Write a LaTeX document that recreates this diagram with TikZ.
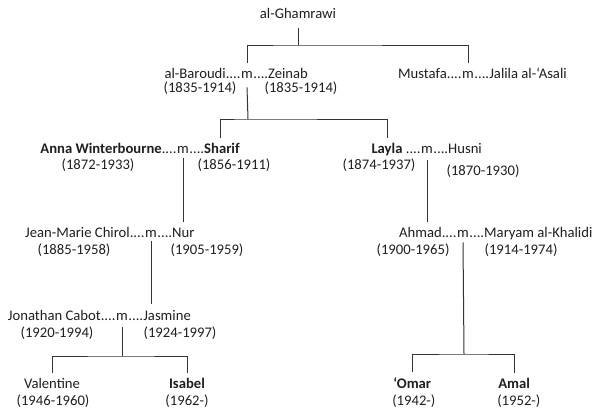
\documentclass[tikz,border=0pt]{standalone}
\usepackage{fontspec}
\setmainfont{Carlito}
\usetikzlibrary{positioning}

\tikzset{
	who/.style={inner sep=0pt, anchor=base, font=\fontsize{11}{13}\selectfont, text=black!88},
	wed/.style={who},
	born/.style={who},
	link/.style={draw=black!80, line width=0.75pt},
}

\begin{document}
\begin{tikzpicture}[x=0.75pt, y=-0.75pt]
	\useasboundingbox (0,0) rectangle (595,414);

	%First generation
	\node [who] (gham) at (298,18) {al-Ghamrawi};

	%al-Baroudi and Zeinab
	\node [wed] (mB) at (247,78) {m};
	\node [who, base left=0pt of mB] (baroudi) {al-Baroudi....};
	\node [who, base right=0pt of mB] (zeinab) {....Zeinab};
	\node [born] (baroudid) at (200,92) {(1835-1914)};
	\node [born] (zeinabd) at (301,92) {(1835-1914)};
	%Mustafa and Jalila
	\node [wed] (mM) at (468,78) {m};
	\node [who, base left=0pt of mM] (mustafa) {Mustafa....};
	\node [who, base right=0pt of mM] (jalila) {....Jalila al-‘Asali};

	%Anna Winterbourne and Sharif
	\node [wed] (mA) at (183,153) {m};
	\node [who, base left=0pt of mA] (anna) {\textbf{Anna Winterbourne}....};
	\node [who, base right=0pt of mA] (sharif) {....\textbf{Sharif}};
	\node [born] (annad) at (98,169) {(1872-1933)};
	\node [born] (sharifd) at (234,169) {(1856-1911)};
	%Layla and Husni
	\node [wed] (mL) at (427,153) {m};
	\node [who, base left=0pt of mL] (layla) {\textbf{Layla} ....};
	\node [who, base right=0pt of mL] (husni) {....Husni};
	\node [born] (laylad) at (379,169) {(1874-1937)};
	\node [born] (husnid) at (483,175) {(1870-1930)};

	%Jean-Marie Chirol and Nur
	\node [wed] (mJ) at (151,237) {m};
	\node [who, base left=0pt of mJ] (jean) {Jean-Marie Chirol....};
	\node [who, base right=0pt of mJ] (nur) {....Nur};
	\node [born] (jeand) at (74,254) {(1885-1958)};
	\node [born] (nurd) at (207,254) {(1905-1959)};
	%Ahmad and Maryam
	\node [wed] (mH) at (463,237) {m};
	\node [who, base left=0pt of mH] (ahmad) {Ahmad....};
	\node [who, base right=0pt of mH] (maryam) {....Maryam al-Khalidi};
	\node [born] (ahmadd) at (413,254) {(1900-1965)};
	\node [born] (maryamd) at (521,254) {(1914-1974)};

	%Jonathan Cabot and Jasmine
	\node [wed] (mC) at (122,320) {m};
	\node [who, base left=0pt of mC] (jonathan) {Jonathan Cabot....};
	\node [who, base right=0pt of mC] (jasmine) {....Jasmine};
	\node [born] (jonathand) at (57,337) {(1920-1994)};
	\node [born] (jasmined) at (180,337) {(1924-1997)};

	%Last generation
	\node [who] (valentine) at (52,388) {Valentine};
	\node [born] (valentined) at (53,405) {(1946-1960)};
	\node [who] (isabel) at (187,388) {\textbf{Isabel}};
	\node [born] (isabeld) at (187,405) {(1962-)};
	\node [who, anchor=base west] (omar) at (393,388) {\textbf{‘Omar}};
	\node [born, anchor=base west] (omard) at (392,405) {(1942-)};
	\node [who, anchor=base west] (amal) at (498,388) {\textbf{Amal}};
	\node [born, anchor=base west] (amald) at (497,405) {(1952-)};

	%Lines of descent
	\coordinate (barG) at (298,45);
	\draw [link] (gham.south) ++(0,10) -- (barG);
	\draw [link] ([yshift=6pt]mB.north) |- (barG) -| ([yshift=6pt]mM.north);

	\coordinate (barB) at (248,119);
	\coordinate (toSharif) at (220,138);
	\coordinate (toLayla) at (387,138);
	\draw [link] (mB.south) ++(0,9) -- (barB);
	\draw [link] (toSharif) |- (barB) -| (toLayla);

	\draw [link, shorten <=3.75pt, shorten >=4pt] (mA.south) -- (mA.south |- nur.north);
	\draw [link, shorten <=5.25pt, shorten >=3.6pt] (mL.south) -- (mL.south |- ahmad.north);
	\draw [link, shorten <=3pt, shorten >=4pt] (mJ.south) -- (mJ.south |- jasmine.north);

	\coordinate (barC) at (122,356);
	\draw [link] (mC.south) ++(0,7) -- (barC);
	\draw [link, shorten <=3.6pt, shorten >=3.6pt] (valentine.north) |- (barC) -| (isabel.north);

	\coordinate (barH) at (464,354);
	\draw [link] (mH.south) ++(0,5) -- (barH);
	\draw [link, shorten <=3.6pt, shorten >=3.6pt] (omar.north) |- (barH) -| (amal.north);
\end{tikzpicture}
\end{document}
